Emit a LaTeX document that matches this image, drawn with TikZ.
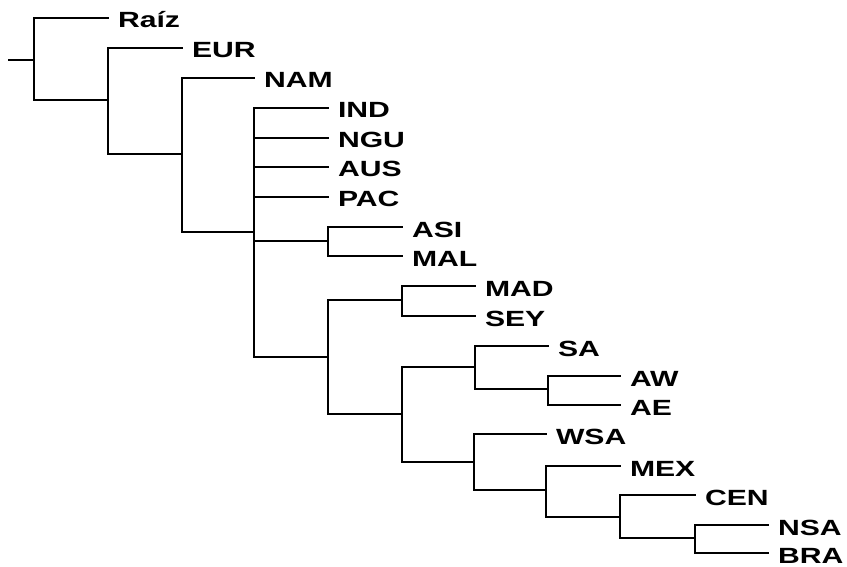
\documentclass[tikz,border=0pt]{standalone}
\usepackage{fontspec}
\usepackage{graphicx}
\setmainfont{Liberation Sans}
\usetikzlibrary{calc}
\tikzset{
  branch/.style={line width=2.1pt, line join=miter, line cap=rect},
  taxon/.style={anchor=base west, inner sep=0pt, outer sep=0pt,
    font=\fontsize{22}{26}\selectfont\bfseries},
}
% horizontally widened label text
\newcommand{\wlab}[1]{\scalebox{1.37}[1]{#1}}
\begin{document}
\begin{tikzpicture}[x=1pt, y=-1pt]
\useasboundingbox (0,0) rectangle (847,567);

% internal nodes (x of the vertical bar, y where the parent joins)
\coordinate (stub) at (9,60);
\coordinate (r0)  at (34,60);
\coordinate (n1)  at (108,100);
\coordinate (n2)  at (182,154);
\coordinate (n3)  at (254,232);
\coordinate (n4)  at (328,241);
\coordinate (n5)  at (328,357);
\coordinate (n6)  at (402,300);
\coordinate (n7)  at (402,414);
\coordinate (n8)  at (475,367);
\coordinate (n9)  at (474,462);
\coordinate (n10) at (548,389);
\coordinate (n11) at (546,490);
\coordinate (n12) at (620,517);
\coordinate (n13) at (695,538);

% ends of the terminal branches
\coordinate (cRaiz) at (108,18);
\coordinate (cEUR)  at (182,48);
\coordinate (cNAM)  at (254,78);
\coordinate (cIND)  at (328,108);
\coordinate (cNGU)  at (328,138);
\coordinate (cAUS)  at (328,167);
\coordinate (cPAC)  at (328,197);
\coordinate (cASI)  at (402,227);
\coordinate (cMAL)  at (402,256);
\coordinate (cMAD)  at (475,286);
\coordinate (cSEY)  at (475,316);
\coordinate (cSA)   at (548,346);
\coordinate (cAW)   at (620,376);
\coordinate (cAE)   at (620,405);
\coordinate (cWSA)  at (546,434);
\coordinate (cMEX)  at (620,466);
\coordinate (cCEN)  at (695,495);
\coordinate (cNSA)  at (768,525);
\coordinate (cBRA)  at (768,553);

% taxon labels
\foreach \c/\t in {Raiz/Raíz, EUR/EUR, NAM/NAM, IND/IND, NGU/NGU, AUS/AUS,
    PAC/PAC, ASI/ASI, MAL/MAL, MAD/MAD, SEY/SEY, SA/SA, AW/AW, AE/AE,
    WSA/WSA, MEX/MEX, CEN/CEN, NSA/NSA, BRA/BRA}
  \node[taxon] (L\c) at ($(c\c)+(10,10)$) {\wlab{\t}};

% branches
\draw[branch] (stub) -- (r0);
\draw[branch] (r0) |- (cRaiz);
\draw[branch] (r0) |- (n1);
\draw[branch] (n1) |- (cEUR);
\draw[branch] (n1) |- (n2);
\draw[branch] (n2) |- (cNAM);
\draw[branch] (n2) |- (n3);
\draw[branch] (n3) |- (cIND);
\draw[branch] (n3) |- (cNGU);
\draw[branch] (n3) |- (cAUS);
\draw[branch] (n3) |- (cPAC);
\draw[branch] (n3) |- (n4);
\draw[branch] (n3) |- (n5);
\draw[branch] (n4) |- (cASI);
\draw[branch] (n4) |- (cMAL);
\draw[branch] (n5) |- (n6);
\draw[branch] (n5) |- (n7);
\draw[branch] (n6) |- (cMAD);
\draw[branch] (n6) |- (cSEY);
\draw[branch] (n7) |- (n8);
\draw[branch] (n7) |- (n9);
\draw[branch] (n8) |- (cSA);
\draw[branch] (n8) |- (n10);
\draw[branch] (n10) |- (cAW);
\draw[branch] (n10) |- (cAE);
\draw[branch] (n9) |- (cWSA);
\draw[branch] (n9) |- (n11);
\draw[branch] (n11) |- (cMEX);
\draw[branch] (n11) |- (n12);
\draw[branch] (n12) |- (cCEN);
\draw[branch] (n12) |- (n13);
\draw[branch] (n13) |- (cNSA);
\draw[branch] (n13) |- (cBRA);
\end{tikzpicture}
\end{document}
